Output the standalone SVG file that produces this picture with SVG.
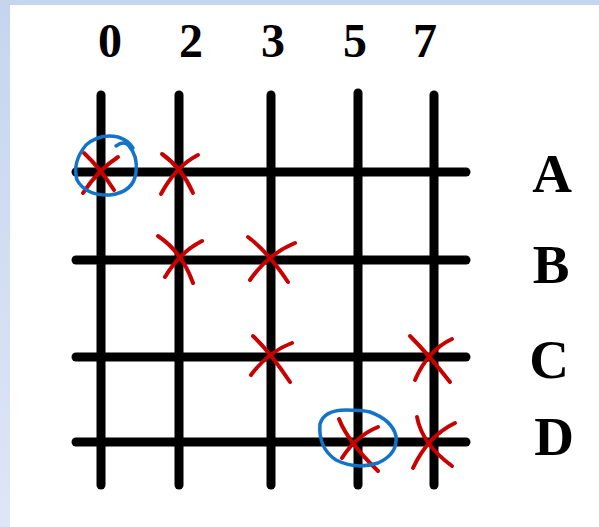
<svg xmlns="http://www.w3.org/2000/svg" width="599" height="527" viewBox="0 0 599 527">
  <defs>
    <linearGradient id="side" x1="0" y1="0" x2="0" y2="1">
      <stop offset="0" stop-color="#c6d5ee"/>
      <stop offset="1" stop-color="#dde6f5"/>
    </linearGradient>
    <style>
      .ln { stroke: #000; stroke-width: 9; stroke-linecap: round; fill: none; }
      .x { stroke: #c80000; stroke-width: 4; stroke-linecap: round; fill: none; }
      .ring { stroke: #1273c8; stroke-width: 3.5; stroke-linecap: round; fill: none; }
      .num { font-family: "Liberation Serif", "DejaVu Serif", serif; font-weight: bold; font-size: 48px; text-anchor: middle; fill: #000; }
      .let { font-family: "Liberation Serif", "DejaVu Serif", serif; font-weight: bold; font-size: 55px; text-anchor: middle; fill: #000; }
    </style>
  </defs>
  <rect x="0" y="0" width="599" height="527" fill="#fff"/>
  <rect x="0" y="0" width="599" height="5" fill="#c6d5ee"/>
  <rect x="0" y="0" width="10" height="527" fill="url(#side)"/>

  <g id="grid">
    <line class="ln" x1="101" y1="95" x2="101" y2="485"/>
    <line class="ln" x1="179" y1="95" x2="179" y2="485"/>
    <line class="ln" x1="271" y1="95" x2="271" y2="485"/>
    <line class="ln" x1="358" y1="93" x2="358" y2="485"/>
    <line class="ln" x1="434" y1="95" x2="434" y2="485"/>
    <line class="ln" x1="76" y1="172" x2="466" y2="172"/>
    <line class="ln" x1="76" y1="260" x2="466" y2="260"/>
    <line class="ln" x1="76" y1="357" x2="466" y2="357"/>
    <line class="ln" x1="76" y1="442" x2="466" y2="442"/>
  </g>

  <g id="column-labels">
    <text class="num" x="110" y="57">0</text>
    <text class="num" x="191" y="57">2</text>
    <text class="num" x="273" y="57">3</text>
    <text class="num" x="355" y="57">5</text>
    <text class="num" x="425" y="57">7</text>
  </g>
  <g id="row-labels">
    <text class="let" x="552" y="192">A</text>
    <text class="let" x="551" y="283">B</text>
    <text class="let" x="549" y="378">C</text>
    <text class="let" x="554" y="455">D</text>
  </g>

  <g id="marks">
    <g id="mark-A0">
      <path class="x" d="M84,153 Q100,168 114,190"/>
      <path class="x" d="M118,157 Q98,170 83,193"/>
    </g>
    <g id="mark-A2">
      <path class="x" d="M162,154 Q182,168 193,193"/>
      <path class="x" d="M198,155 Q176,166 161,194"/>
    </g>
    <g id="mark-B2">
      <path class="x" d="M158,236 Q182,252 193,283"/>
      <path class="x" d="M202,241 Q180,252 165,277"/>
    </g>
    <g id="mark-B3">
      <path class="x" d="M248,237 Q268,252 288,282"/>
      <path class="x" d="M295,243 Q268,254 250,280"/>
    </g>
    <g id="mark-C3">
      <path class="x" d="M253,336 Q270,352 290,382"/>
      <path class="x" d="M292,343 Q268,352 251,375"/>
    </g>
    <g id="mark-C7">
      <path class="x" d="M410,336 Q428,354 450,382"/>
      <path class="x" d="M452,339 Q428,350 415,380"/>
    </g>
    <g id="mark-D5">
      <path class="x" d="M339,419 Q348,442 378,471"/>
      <path class="x" d="M378,427 Q356,436 342,458"/>
    </g>
    <g id="mark-D7">
      <path class="x" d="M417,417 Q422,444 452,466"/>
      <path class="x" d="M455,423 Q428,436 413,468"/>
    </g>
    <g id="ring-A0">
      <path class="ring" d="M116,146 Q124,140 129,146 Q138,156 136,172 Q134,192 110,195 Q86,196 77,180 Q72,162 86,145 Q100,133 118,137 Q128,140 133,148"/>
    </g>
    <g id="ring-D5">
      <path class="ring" d="M370,412 Q392,420 396,436 Q398,454 378,463 Q356,470 336,460 Q318,448 320,424 Q324,410 346,410 Q362,410 370,412"/>
    </g>
  </g>
</svg>
